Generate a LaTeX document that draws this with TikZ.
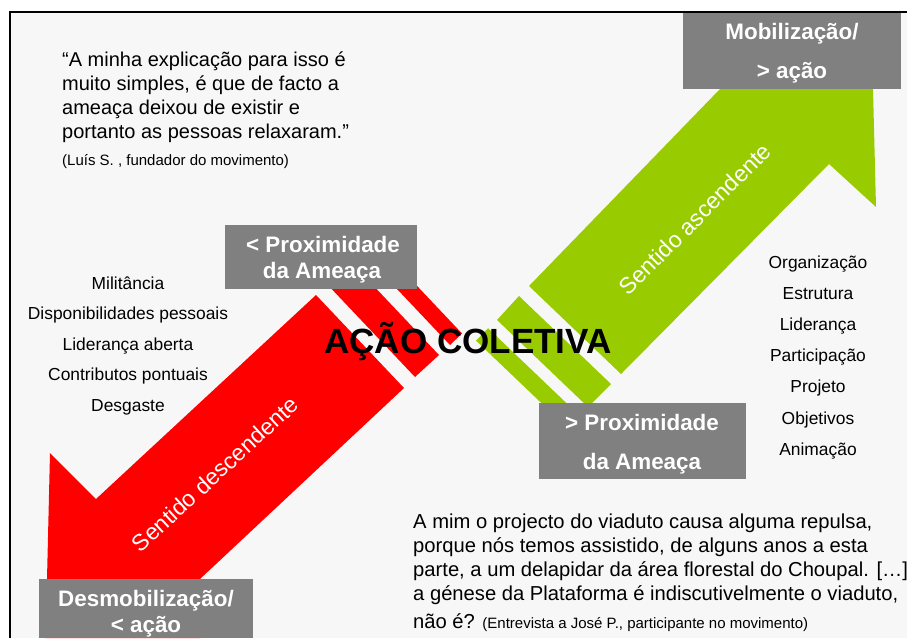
\documentclass[tikz,border=0pt]{standalone}
\usepackage{fontspec}
\setmainfont{Liberation Sans}
\definecolor{bg}{HTML}{F7F7F7}
\definecolor{boxgray}{HTML}{808080}
\definecolor{arrred}{HTML}{FF0000}
\definecolor{arrgreen}{HTML}{99CC00}
\tikzset{
  graybox/.style={fill=boxgray, draw=none, inner sep=0pt, anchor=north west},
  boxtext/.style={anchor=base, inner sep=0pt, text=white, font=\bfseries\fontsize{22.4}{26}\selectfont},
  qtext/.style={anchor=base west, inner sep=0pt, font=\fontsize{20}{24}\selectfont},
  ptext/.style={anchor=base west, inner sep=0pt, font=\fontsize{20.2}{24}\selectfont},
  smalltext/.style={anchor=base west, inner sep=0pt, font=\fontsize{15}{18}\selectfont},
  listtext/.style={anchor=base, inner sep=0pt, font=\fontsize{17.4}{20}\selectfont},
  senstext/.style={anchor=center, inner sep=0pt, text=white, font=\fontsize{23}{26}\selectfont},
}
\begin{document}
\begin{tikzpicture}[x=1pt,y=-1pt]
\useasboundingbox (0,0) rectangle (907,638);
\fill[white] (0,0) rectangle (907,638);
\fill[bg] (10,12) rectangle (907,638);
\draw[black, line width=2.2pt] (10,638) -- (10,12) -- (907,12);

% red striped arrow (descending)
\fill[arrred] (50,453) -- (96,499) -- (316,295) -- (404,388) -- (200,579) -- (200,638) -- (45,638) -- (47,579) -- cycle;
\fill[arrred] (327.4,284.5) -- (351.3,262.3) -- (439,355) -- (415,377) -- cycle;
\fill[arrred] (362,252) -- (374.4,240.8) -- (462,333.5) -- (450,345) -- cycle;

% green striped arrow (ascending)
\fill[arrgreen] (529,286) -- (720,89) -- (720,40) -- (873,40) -- (873,89) -- (876,207) -- (829,164) -- (621,374) -- cycle;
\fill[arrgreen] (497,320) -- (519,296) -- (611,384) -- (588,407) -- cycle;
\fill[arrgreen] (476,340.6) -- (488.1,328.2) -- (579.5,415.6) -- (567.4,427.9) -- cycle;

% rotated arrow labels
\node[senstext, rotate=42.5] (sdesc) at (215,474) {Sentido descendente};
\node[senstext, rotate=45] (sasc) at (695,219) {Sentido ascendente};

% gray boxes
\node[graybox, minimum width=218pt, minimum height=76pt] (mob) at (683,13) {};
\node[boxtext] (mob1) at (792,39) {Mobilização/};
\node[boxtext] (mob2) at (792,78) {> ação};

\node[graybox, minimum width=192pt, minimum height=64pt] (pmin) at (225,225) {};
\node[boxtext] (pmin1) at (323,252) {< Proximidade};
\node[boxtext] (pmin2) at (322,278) {da Ameaça};

\node[graybox, minimum width=207pt, minimum height=76pt] (pmax) at (539,403) {};
\node[boxtext] (pmax1) at (642,430) {> Proximidade};
\node[boxtext] (pmax2) at (642,469) {da Ameaça};

\node[graybox, minimum width=214pt, minimum height=59pt] (desm) at (39,579) {};
\node[boxtext] (desm1) at (146,606) {Desmobilização/};
\node[boxtext] (desm2) at (146,632) {< ação};

% central title
\node[anchor=base, inner sep=0pt, font=\bfseries\fontsize{35}{38}\selectfont] (acao) at (468,353) {AÇÃO COLETIVA};

% quote top left
\node[qtext] (q1) at (62,66) {“A minha explicação para isso é};
\node[qtext] (q2) at (62,90) {muito simples, é que de facto a};
\node[qtext] (q3) at (62,114) {ameaça deixou de existir e};
\node[qtext] (q4) at (62,138) {portanto as pessoas relaxaram.”};
\node[smalltext] (q5) at (62,165) {(Luís S. , fundador do movimento)};

% left list
\node[listtext] (l1) at (128,289) {Militância};
\node[listtext] (l2) at (128,319.5) {Disponibilidades pessoais};
\node[listtext] (l3) at (128,350) {Liderança aberta};
\node[listtext] (l4) at (128,380.5) {Contributos pontuais};
\node[listtext] (l5) at (128,411) {Desgaste};

% right list
\node[listtext] (r1) at (818,268) {Organização};
\node[listtext] (r2) at (818,299.2) {Estrutura};
\node[listtext] (r3) at (818,330.4) {Liderança};
\node[listtext] (r4) at (818,361.6) {Participação};
\node[listtext] (r5) at (818,392.8) {Projeto};
\node[listtext] (r6) at (818,424) {Objetivos};
\node[listtext] (r7) at (818,455.2) {Animação};

% bottom right paragraph
\node[ptext] (p1) at (413,528) {A mim o projecto do viaduto causa alguma repulsa,};
\node[ptext] (p2) at (413,552) {porque nós temos assistido, de alguns anos a esta};
\node[ptext] (p3) at (413,576) {parte, a um delapidar da área florestal do Choupal. […]};
\node[ptext] (p4) at (413,600) {a génese da Plataforma é indiscutivelmente o viaduto,};
\node[ptext] (p5) at (413,628) {não é? {\fontsize{15}{18}\selectfont (Entrevista a José P., participante no movimento)}};
\end{tikzpicture}
\end{document}
